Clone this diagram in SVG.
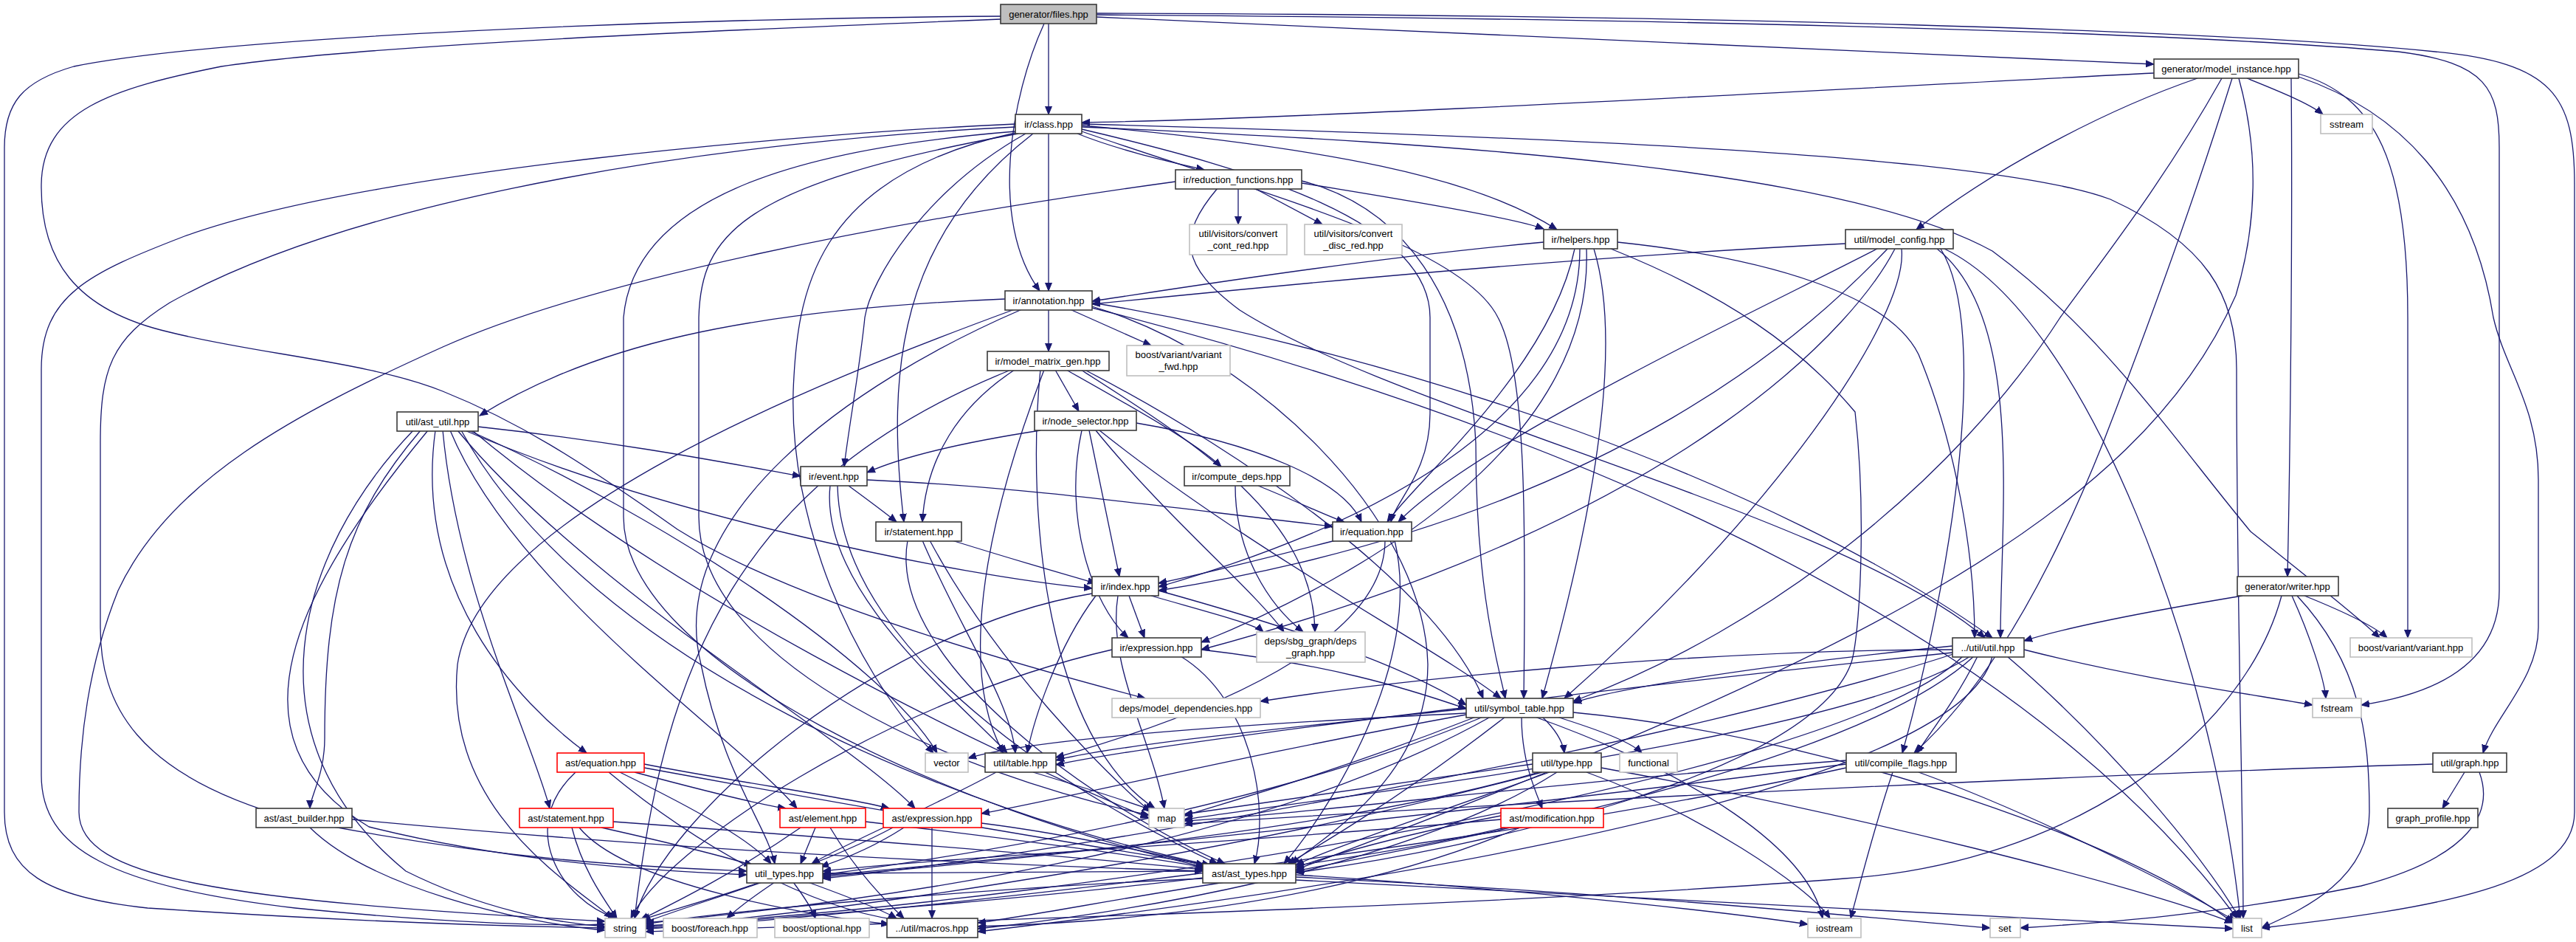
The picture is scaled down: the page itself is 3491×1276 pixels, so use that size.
<svg xmlns="http://www.w3.org/2000/svg" width="3491" height="1276" viewBox="0 0 3491 1276">
<style>
.nd rect{fill:#fff;stroke:#3a3a3a;stroke-width:1.6}
.ex rect{fill:#fff;stroke:#bfbfbf;stroke-width:1.6}
.rd rect{fill:#fff;stroke:#ff0000;stroke-width:1.6}
.rt rect{fill:#bfbfbf;stroke:#3a3a3a;stroke-width:1.6}
text{font-family:"Liberation Sans",Arial,sans-serif;font-size:13px;text-anchor:middle;fill:#000}
#edges path{fill:none;stroke:#191970;stroke-width:1.3;marker-end:url(#arr)}
</style>
<defs>
<marker id="arr" markerUnits="userSpaceOnUse" markerWidth="13" markerHeight="11" refX="11" refY="5" orient="auto">
<path d="M0,0.5 L11,5 L0,9.5 z" fill="#191970" stroke="#191970" stroke-width="1"/>
</marker>
</defs>
<rect width="3491" height="1276" fill="#fff"/>
<g id="edges">
<path d="M1421 32 L1421 155"/>
<path d="M1415 32 C1370 130 1340 300 1409 394"/>
<path d="M1486 23 C1900 45 2500 65 2919 87"/>
<path d="M1356 22 C900 25 300 50 100 90 C30 110 6 140 6 200 L6 1100 C6 1180 60 1215 200 1230 C500 1250 700 1255 820 1257"/>
<path d="M1356 26 C1000 40 500 60 300 90 C150 120 57 150 56 250 C55 350 100 420 230 450 C350 480 500 490 600 530 C700 570 780 620 918 717 C1050 800 1300 880 1552 946"/>
<path d="M1486 20 C2200 25 2900 40 3250 70 C3370 85 3387 120 3387 200 L3387 800 C3387 900 3300 940 3200 955"/>
<path d="M1486 18 C2300 20 3000 40 3300 70 C3460 85 3489 130 3489 250 L3489 1100 C3489 1200 3300 1230 3065 1257"/>
<path d="M2919 99 C2500 120 1800 160 1466 166"/>
<path d="M3045 106 C3080 120 3130 140 3148 155"/>
<path d="M2978 106 C2850 150 2700 230 2597 311"/>
<path d="M3105 106 C3107 300 3104 600 3100 781"/>
<path d="M3115 100 C3220 130 3263 220 3263 430 L3263 864"/>
<path d="M3115 104 C3250 150 3350 250 3379 430 C3395 500 3440 550 3440 650 L3440 850 C3440 920 3380 970 3365 1020"/>
<path d="M3011 106 C2930 250 2850 350 2792 430 C2650 650 2400 850 2132 950"/>
<path d="M3025 106 C2980 250 2916 430 2850 600 C2750 850 2660 960 2594 1020"/>
<path d="M3034 106 C3060 200 3060 300 3030 400 C2900 700 2500 900 1756 1178"/>
<path d="M1460 181 C1520 205 1590 220 1632 230"/>
<path d="M1466 170 C1800 200 2000 240 2110 311"/>
<path d="M1421 181 L1421 394"/>
<path d="M1390 181 C1250 260 1180 380 1172 430 C1165 500 1150 580 1144 632"/>
<path d="M1400 181 C1220 320 1200 500 1225 707"/>
<path d="M1466 175 C1700 230 1938 300 1938 430 L1938 560 C1938 640 1890 680 1885 707"/>
<path d="M1376 168 C1100 180 500 230 250 320 C120 370 56 400 56 500 L56 1050 C56 1150 150 1200 400 1230 C600 1250 750 1255 820 1252"/>
<path d="M1376 172 C1000 190 500 260 230 410 C150 460 136 500 136 600 L136 850 C136 950 180 1050 400 1110 C700 1170 900 1175 1012 1180"/>
<path d="M1380 181 C1000 250 950 320 947 430 L947 700 C947 900 1300 1050 1557 1104"/>
<path d="M1466 168 C2100 185 2700 210 2860 270 C2990 330 3031 400 3031 500 C3031 800 3040 1100 3040 1244"/>
<path d="M1466 172 C2000 195 2500 230 2700 340 C2850 450 2950 600 3050 720 C3150 800 3200 840 3225 864"/>
<path d="M1466 178 C1700 260 1980 330 2030 430 C2068 500 2068 700 2065 946"/>
<path d="M1376 178 C1100 200 860 260 845 430 L845 700 C845 900 1300 1100 1635 1175"/>
<path d="M1376 180 C1100 240 1080 400 1075 530 C1070 700 1150 900 1265 1020"/>
<path d="M2092 328 C1850 350 1600 390 1480 408"/>
<path d="M2134 337 C2100 500 1920 650 1880 707"/>
<path d="M2141 337 C2141 550 1900 700 1570 795"/>
<path d="M2150 337 C2160 600 1850 780 1628 870"/>
<path d="M2160 337 C2210 500 2130 800 2090 946"/>
<path d="M2192 328 C2400 350 2560 400 2600 480 C2650 600 2676 750 2676 864"/>
<path d="M2183 337 C2340 400 2440 470 2514 558 C2530 700 2520 870 2508 900 C2450 1050 2000 1150 1756 1182"/>
<path d="M2501 330 C2100 350 1700 390 1480 412"/>
<path d="M2544 337 C2363 430 2000 600 1895 707"/>
<path d="M2558 337 C2468 430 2200 700 1570 800"/>
<path d="M2568 337 C2520 430 2300 700 1628 880"/>
<path d="M2577 337 C2587 430 2400 700 2120 946"/>
<path d="M2625 337 C2744 430 2711 700 2711 864"/>
<path d="M2630 337 C2700 450 2640 800 2578 1020"/>
<path d="M2635 337 C2830 430 3000 900 3036 1244"/>
<path d="M1678 255 L1678 304"/>
<path d="M1700 255 L1792 304"/>
<path d="M1764 248 C1900 270 2050 295 2092 310"/>
<path d="M1593 246 C1200 300 800 380 600 470 C400 560 230 650 160 800 C120 900 107 1000 107 1100 C107 1190 300 1220 820 1248"/>
<path d="M1650 255 C1595 320 1600 360 1680 420 C1900 560 2500 700 2690 864"/>
<path d="M1764 245 C1900 280 1990 400 2000 600 C2000 800 2030 900 2040 946"/>
<path d="M1421 419 L1421 476"/>
<path d="M1450 419 L1560 468"/>
<path d="M1362 405 C1000 420 800 470 650 563"/>
<path d="M1375 419 C1100 520 650 700 620 900 C600 1100 780 1200 830 1244"/>
<path d="M1385 419 C1150 520 900 700 950 900 C980 1050 1040 1120 1050 1170"/>
<path d="M1480 415 C1700 480 1930 700 1935 900 C1935 1050 1800 1130 1750 1170"/>
<path d="M1480 410 C1900 480 2400 650 2700 864"/>
<path d="M1480 417 C2000 550 2700 800 3032 1244"/>
<path d="M1430 501 L1462 557"/>
<path d="M1445 501 C1550 560 1620 600 1655 632"/>
<path d="M1375 501 C1300 550 1255 620 1250 707"/>
<path d="M1465 501 C1620 600 1780 700 1782 856"/>
<path d="M1470 501 C1700 620 1950 800 2010 946"/>
<path d="M1370 501 C1000 650 900 900 860 1244"/>
<path d="M1410 501 C1390 700 1420 1000 1565 1095"/>
<path d="M1415 501 C1300 800 1320 950 1360 1020"/>
<path d="M1410 583 C1300 600 1220 620 1175 640"/>
<path d="M1540 573 C1700 600 1820 650 1845 707"/>
<path d="M1476 583 L1517 781"/>
<path d="M1466 583 C1440 700 1480 820 1529 864"/>
<path d="M1485 583 C1580 700 1700 800 1740 856"/>
<path d="M1490 583 C1700 750 1950 880 2034 946"/>
<path d="M1705 658 C1760 680 1800 700 1822 707"/>
<path d="M1674 658 C1674 750 1720 820 1766 856"/>
<path d="M1175 650 C1400 660 1600 690 1806 713"/>
<path d="M1150 658 C1180 680 1200 695 1215 707"/>
<path d="M1125 658 C1110 800 1300 950 1365 1020"/>
<path d="M1135 658 C1140 900 1500 1100 1650 1170"/>
<path d="M1290 732 C1380 760 1450 780 1485 790"/>
<path d="M1250 732 C1300 850 1370 950 1376 1020"/>
<path d="M1230 732 C1200 900 1500 1100 1660 1170"/>
<path d="M1260 732 C1350 900 1500 1050 1560 1100"/>
<path d="M1810 732 C1700 760 1620 780 1570 790"/>
<path d="M1877 732 C1877 850 1700 950 1431 1026"/>
<path d="M1890 732 C1930 900 1800 1100 1740 1170"/>
<path d="M1530 807 L1551 864"/>
<path d="M1560 807 C1640 830 1700 845 1712 856"/>
<path d="M1570 800 C1750 850 1900 900 1987 955"/>
<path d="M1485 807 C1430 880 1400 980 1392 1020"/>
<path d="M1515 807 C1500 900 1560 1000 1578 1095"/>
<path d="M1480 804 C1200 850 900 1100 860 1244"/>
<path d="M1628 880 C1800 900 1900 930 1987 960"/>
<path d="M1600 889 C1700 950 1720 1100 1700 1170"/>
<path d="M1507 880 C1200 950 900 1150 855 1244"/>
<path d="M648 578 C850 600 1000 630 1085 645"/>
<path d="M630 583 C900 700 1300 780 1480 797"/>
<path d="M570 583 C470 700 440 800 440 1000 C440 1050 420 1080 420 1095"/>
<path d="M590 583 C560 800 700 950 795 1020"/>
<path d="M600 583 C620 800 720 1000 745 1095"/>
<path d="M610 583 C700 800 1000 1000 1080 1095"/>
<path d="M620 583 C800 800 1150 1000 1240 1095"/>
<path d="M580 583 C400 800 300 1000 500 1120 C700 1170 900 1180 1012 1185"/>
<path d="M560 583 C400 750 330 1000 550 1180 C650 1230 750 1250 820 1255"/>
<path d="M640 583 C900 800 1300 1000 1557 1108"/>
<path d="M625 583 C800 900 1300 1100 1640 1172"/>
<path d="M635 583 C900 700 1200 900 1270 1020"/>
<path d="M420 1121 C500 1200 700 1250 820 1260"/>
<path d="M477 1110 C900 1150 1300 1170 1630 1180"/>
<path d="M780 1046 C700 1120 760 1220 835 1244"/>
<path d="M840 1046 C950 1100 1020 1140 1045 1170"/>
<path d="M860 1046 C950 1070 1030 1090 1065 1095"/>
<path d="M873 1035 C1000 1060 1150 1080 1205 1095"/>
<path d="M873 1040 C1200 1100 1500 1150 1640 1172"/>
<path d="M825 1046 C950 1150 1100 1230 1215 1246"/>
<path d="M775 1121 C790 1180 820 1220 836 1244"/>
<path d="M815 1121 C900 1140 980 1160 1020 1172"/>
<path d="M831 1113 C1200 1140 1500 1165 1632 1178"/>
<path d="M785 1121 C850 1200 1100 1240 1205 1252"/>
<path d="M1085 1121 C1000 1180 920 1220 868 1246"/>
<path d="M1105 1121 L1085 1170"/>
<path d="M1173 1113 C1400 1140 1550 1160 1632 1175"/>
<path d="M1125 1121 C1160 1180 1200 1220 1225 1244"/>
<path d="M1210 1121 C1100 1180 950 1220 872 1250"/>
<path d="M1225 1121 C1180 1150 1140 1165 1112 1174"/>
<path d="M1330 1115 C1450 1130 1560 1155 1632 1172"/>
<path d="M1263 1121 L1263 1244"/>
<path d="M2040 1121 C1700 1200 1200 1230 875 1258"/>
<path d="M2034 1110 C1700 1140 1300 1160 1115 1180"/>
<path d="M2034 1105 C1900 1130 1800 1160 1756 1175"/>
<path d="M2060 1121 C1800 1230 1500 1250 1325 1255"/>
<path d="M1030 1195 C960 1220 900 1235 870 1246"/>
<path d="M1050 1195 C1020 1215 1000 1230 985 1244"/>
<path d="M1075 1195 C1090 1215 1100 1230 1105 1244"/>
<path d="M1095 1195 C1150 1215 1200 1235 1215 1244"/>
<path d="M1630 1190 C1400 1200 1000 1230 875 1252"/>
<path d="M1660 1195 C1500 1220 1400 1240 1325 1250"/>
<path d="M1756 1185 C2000 1200 2300 1230 2450 1252"/>
<path d="M1756 1188 C2200 1210 2500 1240 2697 1257"/>
<path d="M1756 1192 C2300 1220 2800 1245 3026 1258"/>
<path d="M1630 1180 C1400 1180 1250 1182 1115 1183"/>
<path d="M1400 1046 C1480 1070 1540 1090 1560 1097"/>
<path d="M1350 1046 C1250 1100 1150 1140 1100 1170"/>
<path d="M2077 1035 C1900 1060 1700 1090 1605 1103"/>
<path d="M2100 1046 C1950 1100 1800 1150 1756 1172"/>
<path d="M2090 1046 C1700 1150 1200 1230 875 1256"/>
<path d="M2110 1046 C1900 1180 1500 1240 1325 1258"/>
<path d="M2170 1040 C2500 1100 2900 1200 3026 1250"/>
<path d="M2150 1046 C2300 1100 2450 1200 2480 1244"/>
<path d="M2085 1046 C1800 1130 1300 1170 1115 1188"/>
<path d="M1987 960 C1800 980 1500 1010 1431 1030"/>
<path d="M1987 966 C1700 980 1400 1000 1312 1027"/>
<path d="M2090 971 C2110 990 2118 1005 2120 1020"/>
<path d="M2110 971 C2170 990 2210 1005 2225 1020"/>
<path d="M2062 971 C2062 1030 2080 1070 2090 1095"/>
<path d="M2000 971 C1800 1050 1650 1090 1605 1105"/>
<path d="M2040 971 C1900 1080 1780 1150 1745 1170"/>
<path d="M1987 968 C1700 1020 1450 1080 1330 1102"/>
<path d="M2020 971 C1700 1150 1200 1220 875 1250"/>
<path d="M2132 965 C2500 1000 2900 1150 3026 1250"/>
<path d="M2010 971 C1700 1100 1300 1160 1115 1185"/>
<path d="M2080 971 C2300 1050 2450 1150 2470 1244"/>
<path d="M2646 875 C2400 900 2200 930 2132 952"/>
<path d="M2680 889 C2650 950 2610 1000 2598 1020"/>
<path d="M2646 880 C2300 880 1900 920 1708 950"/>
<path d="M2743 880 C2900 920 3050 940 3134 955"/>
<path d="M2720 889 C2850 1000 2980 1150 3035 1244"/>
<path d="M2660 889 C2500 1050 1500 1220 875 1254"/>
<path d="M2670 889 C2500 1000 1800 1080 1605 1110"/>
<path d="M2650 885 C2300 1000 1500 1150 1115 1190"/>
<path d="M2675 889 C2500 1050 1900 1150 1756 1180"/>
<path d="M2646 884 C2300 920 1600 1000 1431 1036"/>
<path d="M2700 889 C2650 1100 1600 1230 1325 1262"/>
<path d="M2565 1046 C2540 1120 2520 1200 2508 1244"/>
<path d="M2502 1040 C2000 1150 1200 1240 875 1258"/>
<path d="M2600 1046 C2750 1100 2950 1200 3030 1248"/>
<path d="M2502 1035 C2000 1100 1400 1160 1115 1186"/>
<path d="M2502 1030 C2100 1060 1800 1100 1605 1112"/>
<path d="M3297 1035 C2800 1050 2000 1090 1605 1116"/>
<path d="M3340 1046 L3310 1095"/>
<path d="M3360 1046 C3380 1100 3350 1160 3200 1200 C3000 1240 2850 1250 2738 1257"/>
<path d="M3039 807 C2900 830 2800 850 2743 868"/>
<path d="M3123 807 C3180 830 3220 850 3235 864"/>
<path d="M3106 807 C3130 860 3150 920 3152 946"/>
<path d="M3113 807 C3200 900 3211 1000 3211 1100 C3211 1200 3100 1240 3065 1257"/>
<path d="M3092 807 C3040 1000 2800 1170 2500 1190 C2000 1230 1200 1250 875 1262"/>
</g>
<g id="n_files" class="rt"><rect x="1356" y="6" width="130" height="26"/><text x="1421" y="24">generator/files.hpp</text></g>
<g id="n_model_instance" class="nd"><rect x="2919" y="80" width="196" height="26"/><text x="3017" y="98">generator/model_instance.hpp</text></g>
<g id="n_class" class="nd"><rect x="1376" y="155" width="90" height="26"/><text x="1421" y="173">ir/class.hpp</text></g>
<g id="n_sstream" class="ex"><rect x="3145" y="155" width="70" height="26"/><text x="3180" y="173">sstream</text></g>
<g id="n_reduction" class="nd"><rect x="1593" y="230" width="171" height="26"/><text x="1678" y="248">ir/reduction_functions.hpp</text></g>
<g id="n_cont_red" class="ex"><rect x="1612" y="304" width="132" height="41"/><text x="1678" y="321">util/visitors/convert</text><text x="1678" y="337">_cont_red.hpp</text></g>
<g id="n_disc_red" class="ex"><rect x="1768" y="304" width="132" height="41"/><text x="1834" y="321">util/visitors/convert</text><text x="1834" y="337">_disc_red.hpp</text></g>
<g id="n_helpers" class="nd"><rect x="2092" y="311" width="100" height="26"/><text x="2142" y="329">ir/helpers.hpp</text></g>
<g id="n_model_config" class="nd"><rect x="2501" y="311" width="146" height="26"/><text x="2574" y="329">util/model_config.hpp</text></g>
<g id="n_annotation" class="nd"><rect x="1362" y="394" width="118" height="26"/><text x="1421" y="412">ir/annotation.hpp</text></g>
<g id="n_mmg" class="nd"><rect x="1338" y="476" width="165" height="26"/><text x="1420" y="494">ir/model_matrix_gen.hpp</text></g>
<g id="n_variant_fwd" class="ex"><rect x="1527" y="468" width="140" height="41"/><text x="1597" y="485">boost/variant/variant</text><text x="1597" y="501">_fwd.hpp</text></g>
<g id="n_ast_util" class="nd"><rect x="538" y="558" width="110" height="26"/><text x="593" y="576">util/ast_util.hpp</text></g>
<g id="n_node_selector" class="nd"><rect x="1402" y="557" width="138" height="26"/><text x="1471" y="575">ir/node_selector.hpp</text></g>
<g id="n_event" class="nd"><rect x="1085" y="632" width="90" height="26"/><text x="1130" y="650">ir/event.hpp</text></g>
<g id="n_compute_deps" class="nd"><rect x="1605" y="632" width="143" height="26"/><text x="1676" y="650">ir/compute_deps.hpp</text></g>
<g id="n_statement" class="nd"><rect x="1187" y="707" width="116" height="26"/><text x="1245" y="725">ir/statement.hpp</text></g>
<g id="n_equation" class="nd"><rect x="1806" y="707" width="107" height="26"/><text x="1859" y="725">ir/equation.hpp</text></g>
<g id="n_index" class="nd"><rect x="1480" y="781" width="90" height="26"/><text x="1525" y="799">ir/index.hpp</text></g>
<g id="n_writer" class="nd"><rect x="3032" y="781" width="137" height="26"/><text x="3100" y="799">generator/writer.hpp</text></g>
<g id="n_expression" class="nd"><rect x="1507" y="864" width="121" height="26"/><text x="1567" y="882">ir/expression.hpp</text></g>
<g id="n_deps_graph" class="ex"><rect x="1703" y="856" width="147" height="41"/><text x="1776" y="873">deps/sbg_graph/deps</text><text x="1776" y="889">_graph.hpp</text></g>
<g id="n_util" class="nd"><rect x="2646" y="864" width="97" height="26"/><text x="2694" y="882">../util/util.hpp</text></g>
<g id="n_variant" class="ex"><rect x="3185" y="864" width="165" height="26"/><text x="3267" y="882">boost/variant/variant.hpp</text></g>
<g id="n_model_deps" class="ex"><rect x="1507" y="946" width="201" height="26"/><text x="1607" y="964">deps/model_dependencies.hpp</text></g>
<g id="n_symbol_table" class="nd"><rect x="1987" y="946" width="145" height="26"/><text x="2059" y="964">util/symbol_table.hpp</text></g>
<g id="n_fstream" class="ex"><rect x="3134" y="946" width="66" height="26"/><text x="3167" y="964">fstream</text></g>
<g id="n_ast_equation" class="rd"><rect x="755" y="1020" width="118" height="26"/><text x="814" y="1038">ast/equation.hpp</text></g>
<g id="n_vector" class="ex"><rect x="1254" y="1020" width="58" height="26"/><text x="1283" y="1038">vector</text></g>
<g id="n_table" class="nd"><rect x="1335" y="1020" width="96" height="26"/><text x="1383" y="1038">util/table.hpp</text></g>
<g id="n_type" class="nd"><rect x="2077" y="1020" width="93" height="26"/><text x="2123" y="1038">util/type.hpp</text></g>
<g id="n_functional" class="ex"><rect x="2195" y="1020" width="78" height="26"/><text x="2234" y="1038">functional</text></g>
<g id="n_compile_flags" class="nd"><rect x="2502" y="1020" width="149" height="26"/><text x="2576" y="1038">util/compile_flags.hpp</text></g>
<g id="n_graph" class="nd"><rect x="3297" y="1020" width="100" height="26"/><text x="3347" y="1038">util/graph.hpp</text></g>
<g id="n_ast_builder" class="nd"><rect x="347" y="1095" width="130" height="26"/><text x="412" y="1113">ast/ast_builder.hpp</text></g>
<g id="n_ast_statement" class="rd"><rect x="704" y="1095" width="127" height="26"/><text x="767" y="1113">ast/statement.hpp</text></g>
<g id="n_ast_element" class="rd"><rect x="1057" y="1095" width="116" height="26"/><text x="1115" y="1113">ast/element.hpp</text></g>
<g id="n_ast_expression" class="rd"><rect x="1197" y="1095" width="133" height="26"/><text x="1263" y="1113">ast/expression.hpp</text></g>
<g id="n_map" class="ex"><rect x="1557" y="1095" width="48" height="26"/><text x="1581" y="1113">map</text></g>
<g id="n_ast_modification" class="rd"><rect x="2034" y="1095" width="139" height="26"/><text x="2103" y="1113">ast/modification.hpp</text></g>
<g id="n_graph_profile" class="nd"><rect x="3236" y="1095" width="122" height="26"/><text x="3297" y="1113">graph_profile.hpp</text></g>
<g id="n_util_types" class="nd"><rect x="1012" y="1170" width="103" height="26"/><text x="1063" y="1188">util_types.hpp</text></g>
<g id="n_ast_types" class="nd"><rect x="1630" y="1170" width="126" height="26"/><text x="1693" y="1188">ast/ast_types.hpp</text></g>
<g id="n_string" class="ex"><rect x="820" y="1244" width="55" height="26"/><text x="847" y="1262">string</text></g>
<g id="n_foreach" class="ex"><rect x="899" y="1244" width="127" height="26"/><text x="962" y="1262">boost/foreach.hpp</text></g>
<g id="n_optional" class="ex"><rect x="1050" y="1244" width="128" height="26"/><text x="1114" y="1262">boost/optional.hpp</text></g>
<g id="n_macros" class="nd"><rect x="1202" y="1244" width="123" height="26"/><text x="1263" y="1262">../util/macros.hpp</text></g>
<g id="n_iostream" class="ex"><rect x="2450" y="1244" width="72" height="26"/><text x="2486" y="1262">iostream</text></g>
<g id="n_set" class="ex"><rect x="2697" y="1244" width="41" height="26"/><text x="2717" y="1262">set</text></g>
<g id="n_list" class="ex"><rect x="3026" y="1244" width="39" height="26"/><text x="3045" y="1262">list</text></g>
</svg>
